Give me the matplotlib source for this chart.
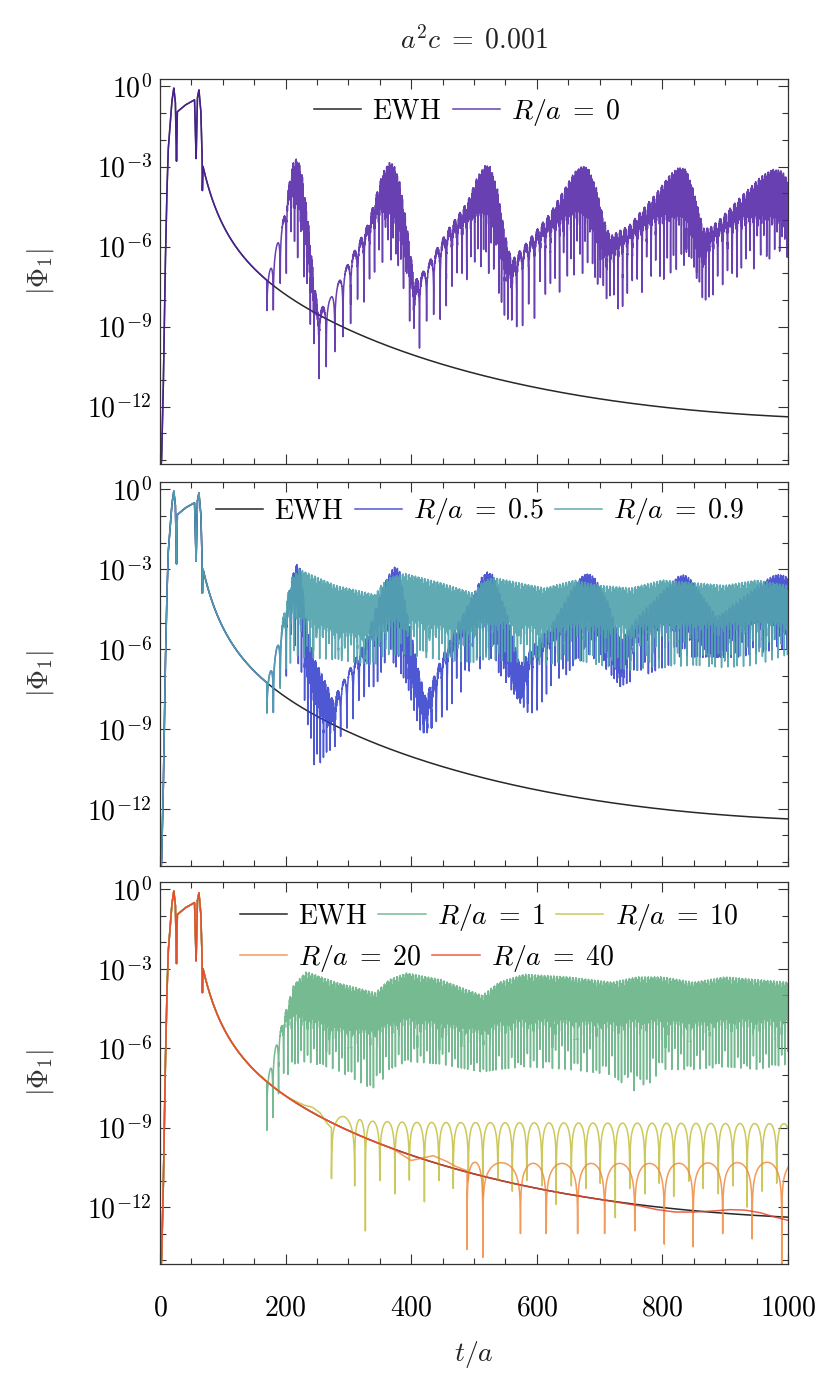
import numpy as np
import matplotlib
matplotlib.use("Agg")
import matplotlib.pyplot as plt
from matplotlib.ticker import FixedLocator, FuncFormatter, MultipleLocator, NullFormatter

plt.rcParams['mathtext.fontset'] = 'cm'
plt.rcParams['font.family'] = 'DejaVu Serif'

# ---- data (log10 of |Phi_1| versus t/a) ----
# initial pulse, common to every curve
pulse_t = [0, 2.5, 5, 8, 10.6, 13, 18.7, 22, 24.5, 26.3, 27.5, 40, 55, 57.5, 59.5, 62,
           65, 67, 67.5]
pulse_log = [-15.0, -14.0, -11.6, -7.2, -4.3, -2.4, -0.6, -0.06, -0.6, -2.8, -0.95, -0.7,
             -0.5, -2.7, -0.44, -0.13, -0.9, -2.5, -3.9]
# EWH tail (smooth decay), read points
ewh_t = [68.5, 74, 84, 105, 126, 158, 189, 221, 253, 316, 368, 421, 505, 613, 713, 847,
         1000]
ewh_log = [-3.0, -3.47, -4.23, -5.24, -6.12, -7.07, -7.77, -8.27, -8.59, -9.28, -9.72,
           -10.04, -10.55, -11.3, -11.8, -12.2, -12.37]

# dense oscillating curves: knot time, upper envelope, depth of dense band,
# depth of deepest spike tips, spacing of the spikes
r0_t = [170, 180, 190, 200, 207, 213, 219, 225, 235, 245, 252, 270, 300, 330, 345, 355,
        365, 372, 382, 395, 405, 420, 460, 490, 505, 518, 526, 537, 550, 560, 575, 620,
        645, 660, 672, 682, 695, 707, 717, 747, 790, 812, 826, 838, 850, 865, 875, 890,
        930, 958, 976, 990, 1000]
r0_top = [-7.3, -6.5, -5.6, -4.6, -3.4, -2.75, -2.7, -3.1, -4.8, -7.2, -8.4, -8.0, -6.6,
          -5.2, -4.0, -3.2, -2.85, -2.9, -3.6, -5.5, -7.3, -6.9, -5.3, -4.3, -3.4, -2.95,
          -3.0, -3.8, -5.6, -6.5, -6.1, -4.78, -3.8, -3.2, -2.98, -3.05, -3.8, -5.0, -5.6,
          -5.2, -4.0, -3.3, -3.03, -3.1, -3.9, -5.3, -5.3, -5.0, -4.0, -3.35, -3.1, -3.15,
          -3.5]
r0_band = [0.0, 0.0, 0.0, 0.2, 0.6, 1.2, 1.5, 1.6, 1.4, 1.0, 0.3, 0.0, 0.1, 0.3, 0.7,
           1.2, 1.6, 1.7, 1.7, 1.2, 0.6, 0.1, 0.3, 0.6, 1.2, 1.6, 1.7, 1.7, 1.2, 0.6, 0.2,
           0.5, 1.0, 1.4, 1.6, 1.7, 1.7, 1.2, 0.6, 0.4, 0.8, 1.4, 1.6, 1.7, 1.7, 1.2, 0.5,
           0.4, 0.8, 1.4, 1.6, 1.7, 1.6]
r0_floor = [-8.4, -8.4, -7.9, -7.5, -6.9, -6.5, -6.5, -7.0, -8.5, -10.0, -11.0, -10.3,
            -9.0, -8.0, -7.3, -6.8, -6.5, -6.5, -7.0, -8.5, -10.0, -10.1, -8.0, -7.3,
            -7.0, -7.0, -7.0, -7.5, -8.8, -9.2, -9.3, -8.0, -7.7, -7.3, -7.0, -7.0, -7.3,
            -8.0, -8.5, -8.1, -7.5, -7.0, -6.8, -6.8, -7.0, -8.0, -8.0, -7.5, -7.0, -6.7,
            -6.5, -6.4, -6.4]
r0_per = [10, 11, 11, 9, 7, 5, 5, 5, 5, 6, 10, 14, 12, 9, 7, 5, 4, 4, 4, 5, 8, 12, 9, 7,
          5, 4, 4, 4, 5, 7, 10, 8, 6, 5, 4, 4, 4, 5, 6, 8, 7, 5, 4, 4, 4, 5, 6, 8, 7, 5,
          4, 4, 4]

r05_t = [170, 180, 190, 200, 209, 217, 224, 233, 247, 267, 275, 287, 303, 327, 347, 362,
         373, 381, 393, 413, 423, 447, 473, 500, 512, 521, 530, 553, 573, 593, 620, 655,
         672, 682, 692, 713, 733, 760, 810, 826, 836, 846, 887, 920, 965, 980, 990, 1000]
r05_top = [-7.3, -6.5, -5.6, -4.6, -3.4, -2.8, -3.0, -5.0, -6.4, -7.4, -7.9, -7.4, -6.7,
           -5.7, -4.2, -3.3, -2.9, -3.0, -4.6, -6.9, -7.8, -6.4, -5.1, -3.9, -3.3, -3.1,
           -3.2, -4.7, -6.6, -5.9, -5.2, -3.8, -3.25, -3.15, -3.3, -4.2, -5.7, -4.8, -3.6,
           -3.25, -3.2, -3.4, -4.8, -4.2, -3.4, -3.2, -3.2, -3.3]
r05_band = [0.0, 0.0, 0.0, 0.2, 0.8, 1.4, 1.6, 1.6, 1.5, 1.2, 0.8, 0.1, 0.1, 0.3, 0.8,
            1.3, 1.6, 1.7, 1.7, 1.2, 0.8, 0.2, 0.5, 1.0, 1.4, 1.6, 1.7, 1.7, 1.2, 0.3,
            0.5, 1.0, 1.5, 1.6, 1.7, 1.7, 1.2, 0.5, 1.2, 1.5, 1.6, 1.7, 1.5, 0.8, 1.4,
            1.6, 1.7, 1.7]
r05_floor = [-8.4, -8.4, -7.9, -7.5, -6.8, -6.5, -6.6, -8.5, -10.6, -9.8, -9.8, -9.3, -8.8,
             -7.8, -7.2, -6.8, -6.6, -6.8, -7.3, -9.0, -9.2, -8.6, -7.8, -7.0, -6.8, -6.6,
             -6.6, -7.3, -8.0, -8.6, -7.5, -6.8, -6.4, -6.3, -6.4, -6.8, -7.4, -7.1, -6.6,
             -6.3, -6.2, -6.3, -6.3, -6.3, -6.1, -6.0, -6.0, -6.0]
r05_per = [10, 11, 11, 9, 7, 5, 5, 5, 5, 5, 8, 10, 10, 8, 6, 5, 4, 4, 4, 5, 6, 9, 7, 6,
           5, 4, 4, 4, 5, 8, 7, 5, 4, 4, 4, 4, 5, 6, 5, 4, 4, 4, 5, 6, 5, 4, 4, 4]

r09_t = [170, 180, 190, 200, 210, 222, 280, 343, 352, 365, 390, 447, 500, 512, 530, 613,
         660, 700, 750, 800, 850, 900, 950, 1000]
r09_top = [-7.3, -6.5, -5.6, -4.3, -3.3, -3.0, -3.6, -3.95, -3.6, -3.3, -3.15, -3.5,
           -3.9, -3.5, -3.3, -3.7, -3.4, -3.6, -3.7, -3.4, -3.5, -3.6, -3.4, -3.6]
r09_band = [0.0, 0.0, 0.0, 0.5, 1.2, 1.6, 1.6, 1.4, 1.5, 1.5, 1.6, 1.5, 1.3, 1.4, 1.5,
            1.4, 1.5, 1.4, 1.3, 1.5, 1.4, 1.3, 1.4, 1.3]
r09_floor = [-8.4, -8.4, -7.9, -7.0, -6.5, -6.3, -6.4, -6.6, -6.3, -6.2, -6.2, -6.4,
             -6.5, -6.4, -6.4, -6.6, -6.4, -6.6, -6.8, -6.7, -6.6, -6.7, -6.6, -6.2]
r09_per = [10, 11, 11, 8, 6, 5, 5, 5, 5, 5, 5, 5, 5, 5, 5, 5, 5, 5, 5, 5, 5, 5, 5, 5]

r1_t = [170, 187, 200, 213, 233, 280, 343, 365, 393, 447, 513, 540, 580, 650, 720, 760,
        800, 850, 900, 950, 1000]
r1_top = [-7.3, -5.7, -4.6, -3.6, -3.1, -3.5, -3.9, -3.4, -3.15, -3.4, -4.0, -3.5, -3.2,
          -3.3, -3.5, -3.3, -3.3, -3.5, -3.3, -3.4, -3.5]
r1_band = [0.0, 0.0, 0.3, 1.0, 1.6, 1.6, 1.3, 1.5, 1.6, 1.5, 1.2, 1.4, 1.6, 1.5, 1.4,
           1.5, 1.5, 1.4, 1.5, 1.4, 1.3]
r1_floor = [-9.7, -7.8, -7.2, -6.6, -6.5, -6.8, -7.6, -6.8, -6.5, -6.6, -6.9, -6.8, -6.7,
            -6.8, -7.0, -7.8, -6.8, -6.8, -6.7, -6.8, -6.6]
r1_per = [10, 9, 7, 5, 5, 5, 5, 5, 5, 5, 5, 5, 5, 5, 5, 5, 5, 5, 5, 5, 5]

# spread of the spike tips above the deepest level (decades)
spike_jitter = [0.0, 1.2, 0.4, 1.8, 0.7, 0.1, 1.5, 0.5, 1.0, 0.25, 1.4, 0.8]

# R/a = 10: arches between zeros
r10_zeros = [273, 310, 327, 350, 374, 397, 421, 444, 467, 491, 514, 538, 561, 584, 608,
             631, 655, 678, 701, 725, 748, 772, 795, 818, 842, 865, 889, 912, 935, 959, 982]
r10_depth = [-9.94, -11.2, -12.9, -11.0, -11.5, -10.8, -11.8, -11.0, -11.3, -10.7,
             -11.6, -11.0, -11.4, -10.9, -11.2, -11.9, -11.2, -11.3, -11.1, -12.4,
             -11.3, -11.5, -11.1, -11.6, -10.9, -11.3, -11.5, -11.2, -12.0, -11.4, -11.1]
r10_top_t = [273, 293, 330, 400, 1000]
r10_top = [-8.55, -8.58, -8.75, -8.8, -8.85]
r10_off_t = [0, 200, 230, 242, 255, 265, 273]
r10_off = [0, 0, 0.1, 0.2, 0.15, -0.1, -0.2]

# R/a = 20
r20_zeros = [489, 514, 574, 615, 665, 708, 756, 803, 849, 896, 943, 990]
r20_depth = [-13.6, -13.9, -13.0, -13.0, -13.0, -13.0, -12.9, -13.4, -13.5, -13.0,
             -13.2, -14.6]
r20_top_t = [489, 600, 800, 1000]
r20_top = [-10.3, -10.35, -10.35, -10.3]
r20_off_t = [0, 370, 385, 400, 415, 435, 455, 470, 489]
r20_off = [0, 0, -0.1, -0.2, 0.0, 0.25, 0.2, 0.1, 0.05]

# R/a = 40: small departures from EWH
r40_off_t = [0, 700, 760, 790, 820, 850, 880, 905, 930, 955, 975, 1000]
r40_off = [0, 0, -0.03, -0.1, -0.12, -0.05, 0.05, 0.15, 0.18, 0.12, 0.0, -0.12]

T = np.arange(0, 1000.0001, 0.05)

# smooth line through the read EWH tail points (in log t), ends held firmly
fit_w = np.ones(len(ewh_t))
fit_w[0] = fit_w[-1] = 6.0
fit_w[-2] = 3.0
ewh_fit = np.polyfit(np.log10(ewh_t), ewh_log, 4, w=fit_w)


def ewh_log_on(t):
    t = np.asarray(t, dtype=float)
    early = np.interp(t, pulse_t + [ewh_t[0]], pulse_log + [np.polyval(ewh_fit, np.log10(ewh_t[0]))])
    late = np.polyval(ewh_fit, np.log10(np.maximum(t, 1.0)))
    return np.where(t < ewh_t[0], early, late)


def dense_curve(kt, top, band, floor, period, t_dep=170.0):
    t = T
    dt = t[1] - t[0]
    top_i = np.interp(t, kt, top)
    band_i = np.interp(t, kt, band)
    floor_i = np.interp(t, kt, floor)
    per_i = np.interp(t, kt, period)
    phase = np.cumsum(np.where(t >= t_dep, dt / per_i, 0.0))
    arch = np.log10(np.abs(np.sin(np.pi * phase)) + 1e-9)
    fast = 0.5 * (1 - np.cos(2 * np.pi * t / 0.9))
    lv = top_i + arch - band_i * fast
    lv = np.maximum(lv, floor_i)
    k = np.floor(phase).astype(int)
    idx = np.nonzero(np.diff(k) > 0)[0] + 1
    tips = floor_i[idx] + np.take(spike_jitter, np.arange(len(idx)), mode='wrap')
    lv[idx] = np.minimum(tips, top_i[idx] - 1.0)
    pre = t < t_dep
    lv[pre] = ewh_log_on(t[pre])
    return 10 ** lv


def arch_curve(zeros, depths, top_t, top_log, off_t, off_log):
    t = T
    lv = ewh_log_on(t) + np.interp(t, off_t, off_log)
    top_i = np.interp(t, top_t, top_log)
    z = list(zeros) + [2 * zeros[-1] - zeros[-2]]
    for a, b in zip(z[:-1], z[1:]):
        m = (t >= a) & (t < b)
        lv[m] = top_i[m] + np.log10(np.sin(np.pi * (t[m] - a) / (b - a)) + 1e-9)
    for zz, d in zip(zeros, depths):
        lv[np.argmin(np.abs(t - zz))] = d
    lv = np.maximum(lv, -15)
    return 10 ** lv


ewh = 10 ** ewh_log_on(T)

# ---- figure ----
FS = 20
fig = plt.figure(figsize=(8.3, 13.9), dpi=100)
left, width = 160 / 830, 628 / 830
boxes = [(79, 464), (482, 866), (882, 1264)]
axes = []
for y0, y1 in boxes:
    ax = fig.add_axes([left, 1 - y1 / 1390, width, (y1 - y0) / 1390])
    axes.append(ax)

c_ewh = '#1c1c1c'
lw = 1.1
al = 0.85
leg_kw = dict(frameon=False, fontsize=FS, borderpad=0, borderaxespad=0,
              handlelength=1.7, handletextpad=0.4, columnspacing=0.4, loc='center left')

ax = axes[0]
l_e, = ax.plot(T, ewh, color=c_ewh, lw=lw, alpha=0.95)
l0, = ax.plot(T, dense_curve(r0_t, r0_top, r0_band, r0_floor, r0_per),
              color='#4e1ea4', lw=lw, alpha=al)
ax.legend([l_e, l0], [r'$\mathrm{EWH}$', r'$R/a\;=\;0$'], ncol=2,
          bbox_to_anchor=(0.245, 0.914), **leg_kw)

ax = axes[1]
l_e, = ax.plot(T, ewh, color=c_ewh, lw=lw, alpha=0.95)
l05, = ax.plot(T, dense_curve(r05_t, r05_top, r05_band, r05_floor, r05_per),
               color='#2f3bcc', lw=lw, alpha=al)
l09, = ax.plot(T, dense_curve(r09_t, r09_top, r09_band, r09_floor, r09_per),
               color='#52a3ae', lw=lw, alpha=0.92)
ax.legend([l_e, l05, l09], [r'$\mathrm{EWH}$', r'$R/a\;=\;0.5$', r'$R/a\;=\;0.9$'],
          ncol=3, bbox_to_anchor=(0.089, 0.922), **leg_kw)

ax = axes[2]
l_e, = ax.plot(T, ewh, color=c_ewh, lw=lw, alpha=0.95)
l1, = ax.plot(T, dense_curve(r1_t, r1_top, r1_band, r1_floor, r1_per),
              color='#5eae7f', lw=lw, alpha=al)
l10, = ax.plot(T, arch_curve(r10_zeros, r10_depth, r10_top_t, r10_top, r10_off_t, r10_off),
               color='#c4bf3e', lw=lw, alpha=al)
l20, = ax.plot(T, arch_curve(r20_zeros, r20_depth, r20_top_t, r20_top, r20_off_t, r20_off),
               color='#f08a3e', lw=lw, alpha=al)
l40, = ax.plot(T, 10 ** (ewh_log_on(T) + np.interp(T, r40_off_t, r40_off)),
               color='#e4452c', lw=lw, alpha=al)
leg1 = ax.legend([l_e, l1, l10], [r'$\mathrm{EWH}$', r'$R/a\;=\;1$', r'$R/a\;=\;10$'],
                 ncol=3, bbox_to_anchor=(0.127, 0.908), **leg_kw)
ax.add_artist(leg1)
ax.legend([l20, l40], [r'$R/a\;=\;20$', r'$R/a\;=\;40$'], ncol=2,
          bbox_to_anchor=(0.127, 0.801), **leg_kw)

ymaj = [10.0 ** k for k in (0, -3, -6, -9, -12)]
ymin = [10.0 ** k for k in range(-14, 1) if k % 3 != 0]
for i, ax in enumerate(axes):
    ax.set_yscale('log')
    ax.set_xlim(0, 1000)
    ax.set_ylim(10 ** -14.15, 10 ** 0.28)
    ax.yaxis.set_major_locator(FixedLocator(ymaj))
    ax.yaxis.set_minor_locator(FixedLocator(ymin))
    ax.yaxis.set_major_formatter(FuncFormatter(lambda v, p: r'$10^{%d}$' % round(np.log10(v))))
    ax.yaxis.set_minor_formatter(NullFormatter())
    ax.xaxis.set_major_locator(MultipleLocator(200))
    ax.xaxis.set_minor_locator(MultipleLocator(50))
    ax.xaxis.set_major_formatter(FuncFormatter(lambda v, p: r'$%d$' % v))
    ax.tick_params(which='both', direction='in', top=True, right=True,
                   width=0.8, color='#333333', labelsize=FS)
    ax.tick_params(which='major', length=7)
    ax.tick_params(which='minor', length=4)
    ax.tick_params(axis='y', pad=6)
    ax.tick_params(axis='x', pad=22)
    for s in ax.spines.values():
        s.set_linewidth(0.9)
        s.set_color('#333333')
    if i < 2:
        ax.tick_params(labelbottom=False)
    yc = (boxes[i][0] + boxes[i][1]) / 2
    fig.text(40 / 830, 1 - yc / 1390, r'$|\Phi_1|$', rotation=90, ha='center',
             va='center', fontsize=FS, color='#333333')

fig.text(474 / 830, 1 - 40 / 1390, r'$a^2c\;=\;0.001$', ha='center', va='center',
         fontsize=FS, color='#222222')
fig.text(474 / 830, 1 - 1355 / 1390, r'$t/a$', ha='center', va='center',
         fontsize=FS, color='#222222')

fig.savefig('out.png', dpi=100)
